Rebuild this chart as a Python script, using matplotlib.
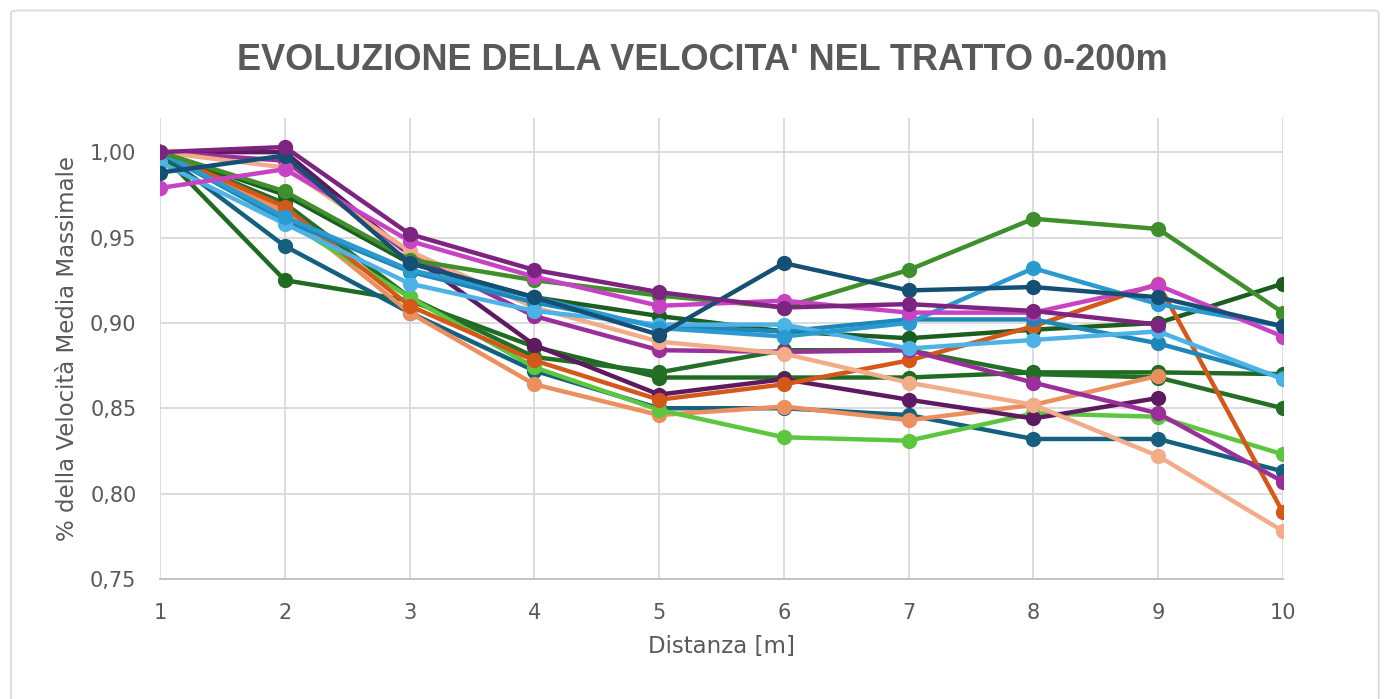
import numpy as np
import matplotlib.pyplot as plt
from matplotlib.ticker import FuncFormatter
from matplotlib.patches import FancyBboxPatch

nan = np.nan
distanza = [1, 2, 3, 4, 5, 6, 7, 8, 9, 10]

# one list per athlete
verde = [1.000, 0.977, 0.937, 0.925, 0.916, 0.909, 0.931, 0.961, 0.955, 0.906]
blu_scuro_a = [0.988, 0.998, 0.935, 0.915, 0.893, 0.935, 0.919, 0.921, 0.915, 0.898]
viola = [1.000, 1.003, 0.952, 0.931, 0.918, 0.909, 0.911, 0.907, 0.899, nan]
viola_chiaro = [1.000, 0.995, 0.940, 0.904, 0.884, 0.883, 0.884, 0.865, 0.847, 0.807]
magenta = [0.979, 0.990, 0.948, 0.927, 0.910, 0.913, 0.906, 0.906, 0.922, 0.892]
arancio = [1.000, 0.968, 0.910, 0.878, 0.855, 0.864, 0.878, 0.898, 0.923, 0.789]
pesca = [1.000, 0.991, 0.942, 0.909, 0.889, 0.882, 0.865, 0.852, 0.822, 0.778]
salmone = [1.000, 0.965, 0.906, 0.864, 0.846, 0.851, 0.843, 0.852, 0.869, nan]
viola_scuro = [1.000, 1.000, 0.940, 0.887, 0.858, 0.867, 0.855, 0.844, 0.856, nan]
verde_chiaro = [1.000, 0.960, 0.915, 0.874, 0.849, 0.833, 0.831, 0.847, 0.845, 0.823]
blu_scuro_b = [1.000, 0.945, 0.906, 0.872, 0.850, 0.850, 0.846, 0.832, 0.832, 0.813]
verde_scuro_a = [1.000, 0.925, 0.913, 0.886, 0.868, 0.868, 0.868, 0.871, 0.871, 0.870]
verde_scuro_b = [1.000, 0.975, 0.935, 0.915, 0.904, 0.895, 0.891, 0.896, 0.900, 0.923]
verde_scuro_c = [1.000, 0.970, 0.915, 0.880, 0.871, 0.884, 0.884, 0.870, 0.868, 0.850]
azzurro = [0.994, 0.958, 0.923, 0.907, 0.899, 0.899, 0.885, 0.890, 0.895, 0.867]
celeste = [1.000, 0.962, 0.931, 0.915, 0.897, 0.892, 0.900, 0.932, 0.911, 0.898]
blu = [1.000, 0.960, 0.930, 0.912, 0.898, 0.895, 0.902, 0.902, 0.888, 0.868]

serie = [
    (verde_scuro_a, '#1f6b22'), (verde_scuro_c, '#236f26'), (verde_scuro_b, '#1c5e1f'),
    (blu_scuro_b, '#15607f'), (salmone, '#ec8f5f'), (verde_chiaro, '#5cc63f'),
    (viola_scuro, '#5e1a60'), (arancio, '#d4581a'), (viola_chiaro, '#9a2f99'),
    (pesca, '#f2ac8a'), (blu, '#1f86b8'), (azzurro, '#4db3e6'), (celeste, '#2a9ad0'),
    (verde, '#3f8f2c'), (magenta, '#c843c4'), (blu_scuro_a, '#154f73'),
    (viola, '#7d2480'),
]

fig = plt.figure(figsize=(13.87, 6.99), dpi=100)
fig.patches.append(FancyBboxPatch((0.008, -0.02), 0.986, 1.005,
                                  boxstyle='round,pad=0,rounding_size=0.004',
                                  transform=fig.transFigure, fill=False,
                                  edgecolor='#d9d9d9', linewidth=1.2))
ax = fig.add_axes([0.1154, 0.1717, 0.8096, 0.6595])

for valori, colore in serie:
    ax.plot(distanza, valori, color=colore, linewidth=3.2, marker='o',
            markersize=11, markeredgewidth=0, solid_capstyle='round')

ax.set_xlim(1, 10)
ax.set_ylim(0.75, 1.02)
ax.set_xticks(distanza)
ax.set_yticks([0.75, 0.80, 0.85, 0.90, 0.95, 1.00])
ax.yaxis.set_major_formatter(FuncFormatter(lambda v, p: f'{v:.2f}'.replace('.', ',')))
ax.grid(True, color='#d9d9d9', linewidth=1.3)
ax.set_axisbelow(True)
for lato in ['top', 'right', 'left']:
    ax.spines[lato].set_visible(False)
ax.spines['bottom'].set_color('#bfbfbf')
ax.spines['bottom'].set_linewidth(1.3)
ax.tick_params(length=0, labelsize=15, labelcolor='#595959', pad=17)
ax.tick_params(axis='y', pad=17)
for lab in ax.get_xticklabels() + ax.get_yticklabels():
    lab.set_clip_on(False)

ax.set_xlabel('Distanza [m]', fontsize=16.5, color='#595959', labelpad=9)
ax.set_ylabel('% della Velocità Media Massimale', fontsize=16.5, color='#595959', labelpad=8)

fig.text(0.5065, 0.914, "EVOLUZIONE DELLA VELOCITA' NEL TRATTO 0-200m", ha='center', va='center',
         fontsize=26, fontweight='bold', color='#595959', family='Liberation Sans')

fig.savefig('out.png', dpi=100, facecolor='white')
